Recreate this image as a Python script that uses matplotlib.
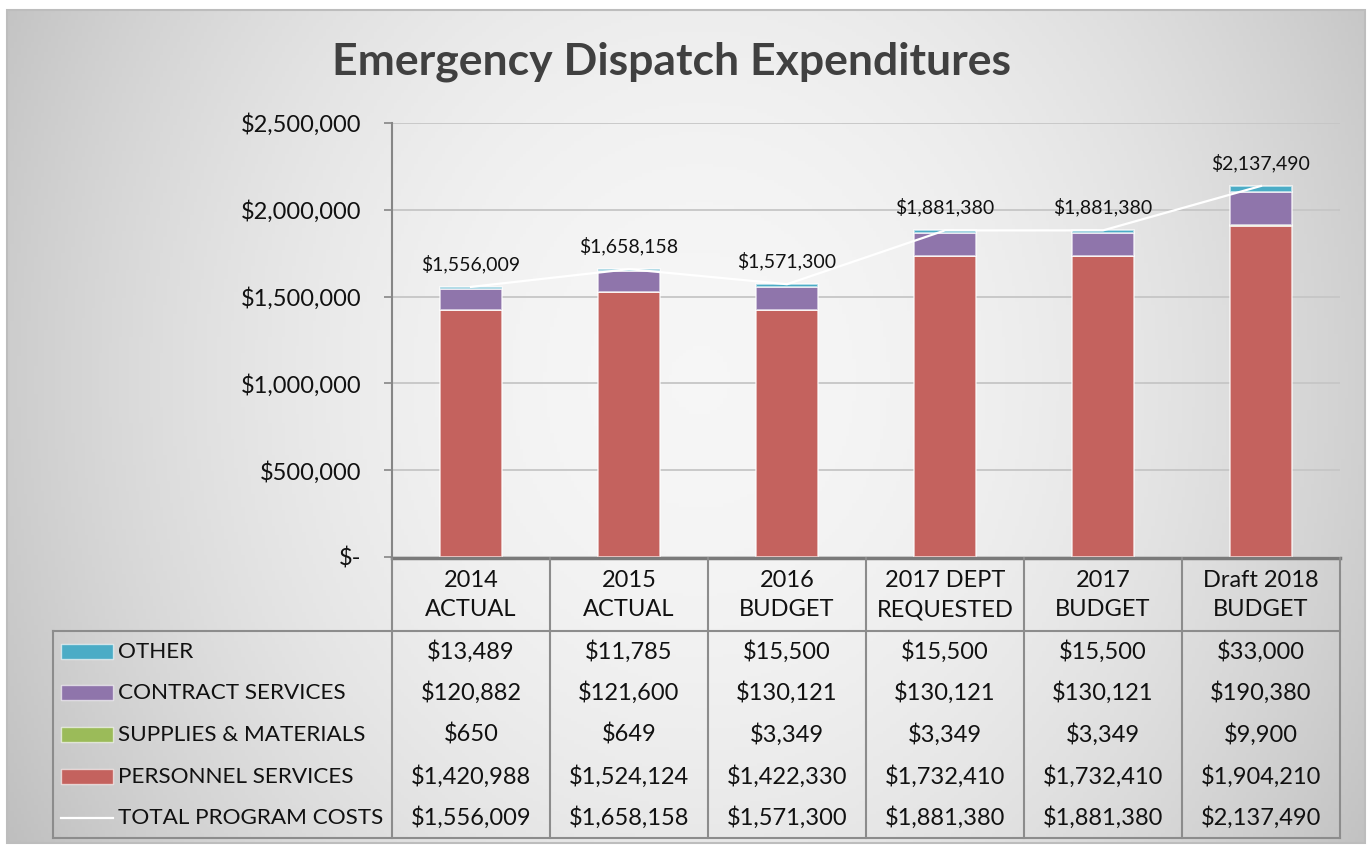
import numpy as np
import matplotlib; matplotlib.use("Agg")
import matplotlib.pyplot as plt
from matplotlib.transforms import blended_transform_factory
from matplotlib.patches import Rectangle

plt.rcParams['font.family'] = ['Lato', 'DejaVu Sans']

categories = ["2014\nACTUAL", "2015\nACTUAL", "2016\nBUDGET", "2017 DEPT\nREQUESTED", "2017\nBUDGET", "Draft 2018\nBUDGET"]
other = [13489, 11785, 15500, 15500, 15500, 33000]
contract = [120882, 121600, 130121, 130121, 130121, 190380]
supplies = [650, 649, 3349, 3349, 3349, 9900]
personnel = [1420988, 1524124, 1422330, 1732410, 1732410, 1904210]
total = [1556009, 1658158, 1571300, 1881380, 1881380, 2137490]
yticks = [0, 500000, 1000000, 1500000, 2000000, 2500000]
ytick_labels = ["$-", "$500,000", "$1,000,000", "$1,500,000", "$2,000,000", "$2,500,000"]

C_OTHER, C_CONTRACT, C_SUPPLIES, C_PERSONNEL = "#4BACC6", "#8F75AB", "#9BBB59", "#C4625E"
W, H = 1372, 846
fig = plt.figure(figsize=(W / 100, H / 100), dpi=100)
fig.patch.set_facecolor("white")

# background: radial grey gradient inside a thin frame
bg = fig.add_axes([0, 0, 1, 1], zorder=0)
bg.set_xlim(0, W); bg.set_ylim(H, 0); bg.axis("off")
xx, yy = np.meshgrid(np.linspace(7, 1365, 400), np.linspace(10, 843, 260))
r = np.sqrt(((xx - 700) / 700) ** 2 + ((yy - 380) / 800) ** 2)
g = 0.965 - 0.165 * np.clip(r, 0, 1.2) ** 2
bg.imshow(np.dstack([g, g, g]), extent=[7, 1365, 843, 10], aspect="auto", zorder=0)
bg.add_patch(Rectangle((7, 10), 1358, 833, fill=False, ec="#BDBDBD", lw=1.5, zorder=1))

fig.text(672 / W, 1 - 62 / H, "Emergency Dispatch Expenditures", ha="center", va="center",
         fontsize=32, fontweight="bold", color="#404040")

# main chart
ax = fig.add_axes([392 / W, 1 - 557 / H, (1340 - 392) / W, (557 - 123) / H], zorder=2)
ax.patch.set_alpha(0)
x = np.arange(len(categories))
bw = 0.39
ek = dict(width=bw, edgecolor=(1, 1, 1, 0.65), linewidth=1.3, zorder=2)
ax.bar(x, personnel, color=C_PERSONNEL, **ek)
b1 = np.array(personnel)
ax.bar(x, supplies, bottom=b1, color=C_SUPPLIES, **ek)
b2 = b1 + np.array(supplies)
ax.bar(x, contract, bottom=b2, color=C_CONTRACT, **ek)
b3 = b2 + np.array(contract)
ax.bar(x, other, bottom=b3, color=C_OTHER, **ek)
ax.plot(x, total, color="white", lw=1.6, zorder=3)
for i, v in enumerate(total):
    ax.annotate(f"${v:,.0f}", (i, v), xytext=(0, 16.5), textcoords="offset points",
                ha="center", va="center", fontsize=14, color="#111111")

ax.set_xlim(-0.5, len(categories) - 0.5)
ax.set_ylim(0, 2500000)
ax.set_yticks(yticks)
ax.set_yticklabels(ytick_labels)
ax.tick_params(axis="y", length=6, width=1.2, color="#868686", pad=16, labelsize=17, labelcolor="#111111")
ax.set_xticks([])
ax.grid(axis="y", color="#C6C6C6", lw=1.3, zorder=0)
ax.set_axisbelow(True)
for s in ("top", "right", "bottom"):
    ax.spines[s].set_visible(False)
ax.spines["left"].set_color("#868686"); ax.spines["left"].set_linewidth(1.5)

# data table below the chart
tr = blended_transform_factory(ax.transData, bg.transData)
lc = "#8C8C8C"
top, head_bot, bot = 558, 631, 838
bg.plot([-0.5, 5.5], [top, top], transform=tr, color="#7A7A7A", lw=2.5, zorder=3)
bg.plot([53, 1340], [head_bot, head_bot], color=lc, lw=1.5, zorder=3)
bg.plot([53, 1340], [bot, bot], color=lc, lw=1.5, zorder=3)
bg.plot([53, 53], [head_bot, bot], color=lc, lw=1.5, zorder=3)
for k in range(len(categories) + 1):
    bg.plot([k - 0.5, k - 0.5], [top, bot], transform=tr, color=lc, lw=1.5, zorder=3)
for i, c in enumerate(categories):
    bg.text(i, 595, c, transform=tr, ha="center", va="center", fontsize=17,
            linespacing=1.5, color="#111111", zorder=4)

rows = [("OTHER", other, C_OTHER), ("CONTRACT SERVICES", contract, C_CONTRACT),
        ("SUPPLIES & MATERIALS", supplies, C_SUPPLIES), ("PERSONNEL SERVICES", personnel, C_PERSONNEL),
        ("TOTAL PROGRAM COSTS", total, None)]
row_y = [652, 693, 735, 777, 818]
for (name, vals, col), yc in zip(rows, row_y):
    if col:
        bg.add_patch(Rectangle((61, yc - 7.5), 52, 15, fc=col, ec=(1, 1, 1, 0.6), lw=1, zorder=4))
    else:
        bg.plot([61, 113], [yc, yc], color="white", lw=1.6, zorder=4)
    bg.text(118, yc, name, ha="left", va="center", fontsize=16.2, color="#111111", zorder=4)
    for i, v in enumerate(vals):
        bg.text(i, yc, f"${v:,.0f}", transform=tr, ha="center", va="center",
                fontsize=17, color="#111111", zorder=4)

fig.savefig("out.png", dpi=100)
